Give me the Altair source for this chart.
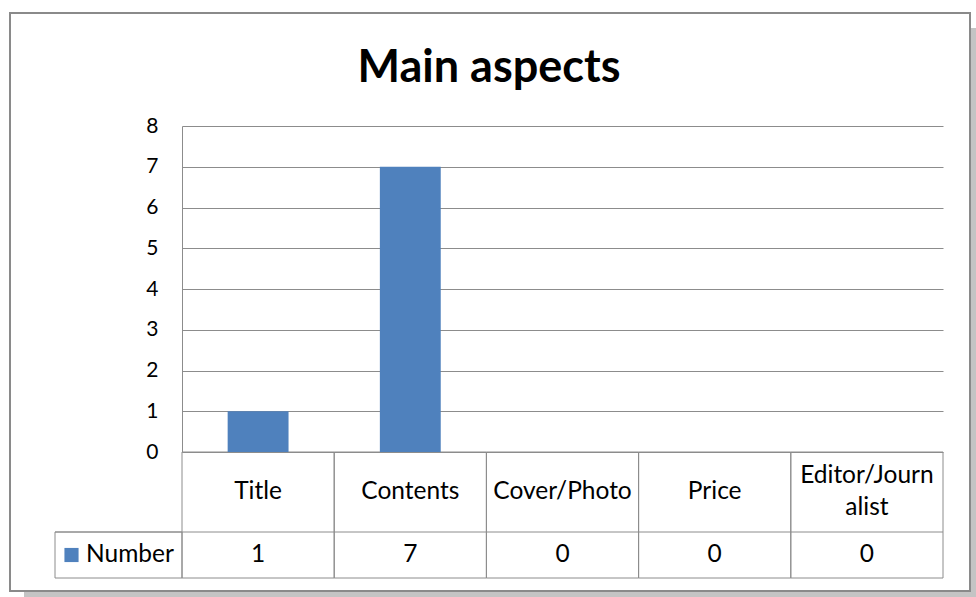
import altair as alt
import pandas as pd

# ---- data ----
categories = ["Title", "Contents", "Cover/Photo", "Price", "Editor/Journalist"]
category_labels = ["Title", "Contents", "Cover/Photo", "Price", "Editor/Journ\nalist"]
values = [1, 7, 0, 0, 0]
series_name = "Number"
y_ticks = [0, 1, 2, 3, 4, 5, 6, 7, 8]
title_text = "Main aspects"

FONT = "Lato"
BLUE = "#4F81BD"
GRID = "#8c8c8c"
TABLE_FS = 24.5
LINE_H = 32

W, H = 761, 326  # plot area

df = pd.DataFrame({
    "category": categories,
    "label": category_labels,
    "value": values,
    "series": [series_name] * len(categories),
})
one = pd.DataFrame({"series": [series_name]})

x_enc = alt.X("category:N", sort=categories,
              scale=alt.Scale(paddingInner=0, paddingOuter=0), axis=None)
color_enc = alt.Color("series:N", scale=alt.Scale(domain=[series_name], range=[BLUE]),
                      legend=None)

base = alt.Chart(df)

# outer frame with shadow
shadow_r = alt.Chart(one).mark_rect(color="#c4c4c4").encode(
    x=alt.value(789), x2=alt.value(794), y=alt.value(-98), y2=alt.value(471))
shadow_b = alt.Chart(one).mark_rect(color="#c4c4c4").encode(
    x=alt.value(-158), x2=alt.value(794), y=alt.value(466), y2=alt.value(471))
frame = alt.Chart(one).mark_rect(fill="white", fillOpacity=0, stroke="#8a8a8a",
                                 strokeWidth=2).encode(
    x=alt.value(-172), x2=alt.value(788), y=alt.value(-113), y2=alt.value(465))

# bars
bars = base.mark_bar(width=alt.RelativeBandSize(0.4)).encode(
    x=x_enc,
    y=alt.Y("value:Q", scale=alt.Scale(domain=[0, 8], nice=False),
            axis=alt.Axis(values=y_ticks, grid=True, gridColor=GRID, gridWidth=1,
                          domain=True, domainColor=GRID, domainWidth=1,
                          ticks=False, labelFont=FONT, labelFontSize=21,
                          labelColor="black", labelPadding=24, title=None,
                          format="d")),
    color=color_enc,
)

# data table
cells = base.mark_rect(fillOpacity=0, stroke=GRID, strokeWidth=1).encode(
    x=x_enc, y=alt.value(H), y2=alt.value(H + 126))
row_line = alt.Chart(one).mark_rule(color=GRID, strokeWidth=1).encode(
    x=alt.value(-127), x2=alt.value(W), y=alt.value(H + 80))
legend_cell = alt.Chart(one).mark_rect(fillOpacity=0, stroke=GRID, strokeWidth=1).encode(
    x=alt.value(-127), x2=alt.value(0), y=alt.value(H + 80), y2=alt.value(H + 126))

cat_text_single = base.transform_filter(
    "indexof(datum.label, '\\n') < 0"
).mark_text(font=FONT, fontSize=TABLE_FS, color="black", baseline="middle").encode(
    x=x_enc, y=alt.value(H + 40), text="label:N")
cat_text_wrapped = base.transform_filter(
    "indexof(datum.label, '\\n') >= 0"
).mark_text(font=FONT, fontSize=TABLE_FS, color="black", lineBreak="\n",
            baseline="middle", lineHeight=LINE_H, dy=-LINE_H / 2).encode(
    x=x_enc, y=alt.value(H + 40), text="label:N")
val_text = base.mark_text(font=FONT, fontSize=TABLE_FS, color="black",
                          baseline="middle").encode(
    x=x_enc, y=alt.value(H + 103), text="value:Q")

legend_sym = alt.Chart(one).mark_point(shape="square", filled=True, size=200,
                                       opacity=1).encode(
    x=alt.value(-110.5), y=alt.value(H + 103), color=color_enc)
legend_txt = alt.Chart(one).mark_text(font=FONT, fontSize=TABLE_FS, color="black",
                                      align="left", baseline="middle").encode(
    x=alt.value(-96), y=alt.value(H + 103), text="series:N")

title = alt.Chart(one).mark_text(font=FONT, fontSize=45, fontWeight="bold",
                                 color="black", baseline="middle").encode(
    x=alt.value(307), y=alt.value(-58), text=alt.value(title_text))

chart = alt.layer(
    shadow_r, shadow_b, frame, cells, row_line, legend_cell, bars,
    cat_text_single, cat_text_wrapped, val_text, legend_sym, legend_txt, title,
).properties(
    width=W, height=H,
    padding={"left": 182, "top": 126, "right": 33, "bottom": 145},
    autosize=alt.AutoSizeParams(type="none"),
    background="white",
).configure_view(stroke=None)

chart.save("out.html", embed_options={"renderer": "svg", "actions": False})
